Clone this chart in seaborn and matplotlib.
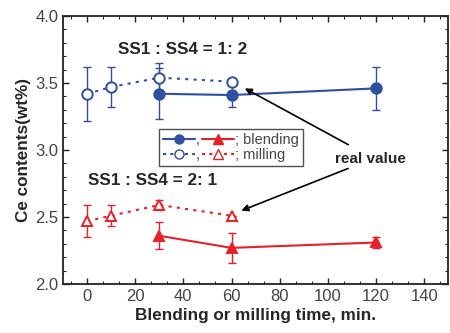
import matplotlib
matplotlib.use("Agg")
import matplotlib.pyplot as plt
import seaborn as sns
import pandas as pd
import numpy as np
from matplotlib.ticker import MultipleLocator, AutoMinorLocator
from matplotlib.lines import Line2D

sns.set_style("ticks")
plt.rcParams['font.family'] = ['Liberation Sans', 'DejaVu Sans']

# Data
blend_time = [30, 60, 120]
blue_blend = [3.42, 3.41, 3.46]
blue_blend_err = [0.19, 0.09, 0.16]
red_blend = [2.36, 2.27, 2.31]
red_blend_err = [0.10, 0.11, 0.04]

mill_time = [0, 10, 30, 60]
blue_mill = [3.42, 3.47, 3.54, 3.51]
blue_mill_err = [0.20, 0.15, 0.11, 0.0]
red_mill = [2.47, 2.51, 2.59, 2.51]
red_mill_err = [0.12, 0.08, 0.04, 0.0]

BLUE = "#2f4fa0"
RED = "#e8202a"

fig = plt.figure(figsize=(4.5, 3.33), dpi=100)
ax = fig.add_axes([0.14, 0.147, 0.856, 0.805])

def draw(x, y, err, color, marker, ls, filled):
    df = pd.DataFrame({"x": x, "y": y})
    mfc = color if filled else "white"
    sns.lineplot(data=df, x="x", y="y", ax=ax, color=color, linestyle=ls,
                 linewidth=1.5, marker=marker, markersize=7.5,
                 markerfacecolor=mfc, markeredgecolor=color, markeredgewidth=1.4,
                 zorder=3)
    ax.errorbar(x, y, yerr=err, fmt="none", ecolor=color, elinewidth=1.0,
                capsize=3, capthick=1.0, zorder=2)

draw(mill_time, blue_mill, blue_mill_err, BLUE, "o", (0, (1.5, 2.5)), False)
draw(blend_time, blue_blend, blue_blend_err, BLUE, "o", "-", True)
draw(mill_time, red_mill, red_mill_err, RED, "^", (0, (1.5, 2.5)), False)
draw(blend_time, red_blend, red_blend_err, RED, "^", "-", True)

ax.set_xlim(-10, 150)
ax.set_ylim(2.0, 4.0)
ax.xaxis.set_major_locator(MultipleLocator(20))
ax.xaxis.set_minor_locator(AutoMinorLocator(3))
ax.yaxis.set_major_locator(MultipleLocator(0.5))
ax.yaxis.set_minor_locator(MultipleLocator(0.1))
ax.set_xticks([0, 20, 40, 60, 80, 100, 120, 140])
ax.tick_params(which="both", direction="in", top=True, right=True, labelsize=12,
               colors="#222222", labelcolor="#444444")
ax.tick_params(which="major", length=4, width=1)
ax.tick_params(which="minor", length=2.5, width=0.8)
for s in ax.spines.values():
    s.set_linewidth(1.3)
    s.set_color("#222222")

ax.set_xlabel("Blending or milling time, min.", fontsize=12.3, fontweight="bold", labelpad=3)
ax.set_ylabel("Ce contents(wt%)", fontsize=12.3, fontweight="bold", labelpad=3)

ax.text(13, 3.75, "SS1 : SS4 = 1: 2", fontsize=12.3, fontweight="bold", va="center")
ax.text(0.5, 2.77, "SS1 : SS4 = 2: 1", fontsize=12.3, fontweight="bold", va="center")
ax.text(103, 2.93, "real value", fontsize=11, fontweight="bold", va="center")
ax.annotate("", xy=(64.5, 3.47), xytext=(109.5, 3.03),
            arrowprops=dict(arrowstyle="-|>", color="black", lw=1.2, mutation_scale=10))
ax.annotate("", xy=(63, 2.54), xytext=(109.5, 2.87),
            arrowprops=dict(arrowstyle="-|>", color="black", lw=1.2, mutation_scale=10))

h_bb = Line2D([], [], color=BLUE, marker="o", lw=1.5, markersize=6.5, mfc=BLUE)
h_bm = Line2D([], [], color=BLUE, marker="o", lw=1.5, ls=(0, (1.5, 2)), markersize=6.5, mfc="white")
h_rb = Line2D([], [], color=RED, marker="^", lw=1.5, markersize=6.5, mfc=RED)
h_rm = Line2D([], [], color=RED, marker="^", lw=1.5, ls=(0, (1.5, 2)), markersize=6.5, mfc="white")
leg = ax.legend([h_bb, h_bm, h_rb, h_rm], [",", ",", "; blending", "; milling"],
                ncol=2, loc="upper left", bbox_to_anchor=(0.249, 0.58),
                borderaxespad=0,
                frameon=True, fancybox=False, edgecolor="#222222", fontsize=10.5,
                handlelength=2.2, handletextpad=0.05, columnspacing=0.15,
                labelspacing=0.05, borderpad=0.3)
leg.get_frame().set_linewidth(1.0)
for t in leg.get_texts():
    t.set_color("#444444")

fig.savefig("out.png", dpi=100)
